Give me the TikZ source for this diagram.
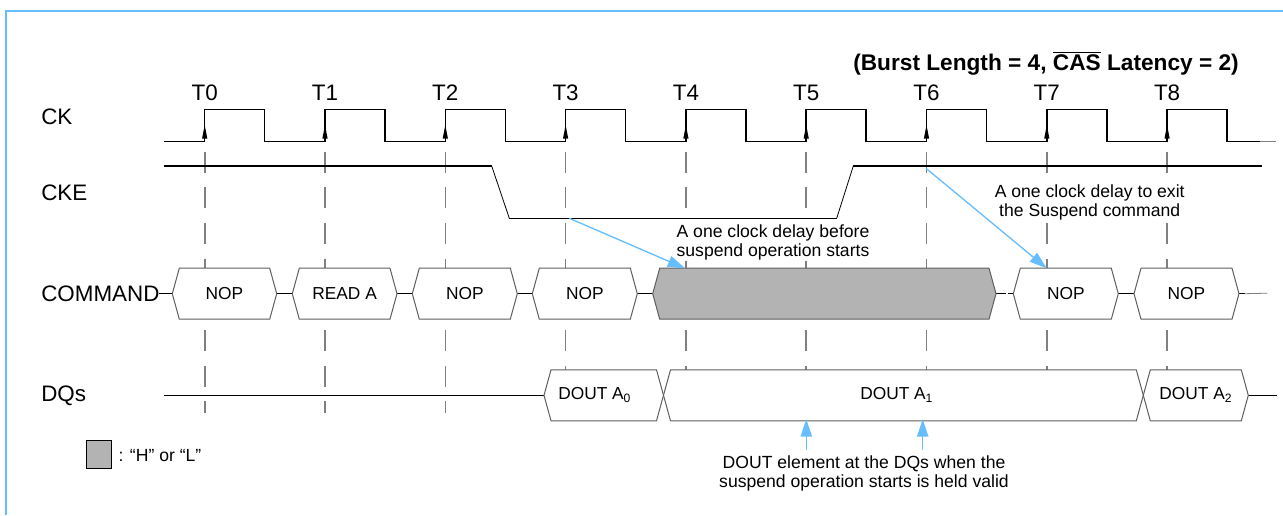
\documentclass[tikz,border=0pt]{standalone}
\usepackage{fontspec}
\setmainfont{Liberation Sans}
\usetikzlibrary{arrows.meta}
\definecolor{bblue}{RGB}{102,190,255}
\definecolor{hl}{RGB}{179,179,179}
\definecolor{dgray}{RGB}{95,95,95}
\definecolor{tgray}{RGB}{128,128,128}
\newcommand\hexbox[4]{\draw[#4] (#1,#3) -- ({#1+7},{#3-25.5}) -- ({#2-7},{#3-25.5}) -- (#2,#3) -- ({#2-7},{#3+25.5}) -- ({#1+7},{#3+25.5}) -- cycle;}
\begin{document}
\begin{tikzpicture}[x=0.75pt,y=-0.75pt,
  biglbl/.style={inner sep=0pt,font=\fontsize{16.8}{20}\selectfont},
  boxtxt/.style={inner sep=0pt,font=\fontsize{13}{15}\selectfont},
  note/.style={inner sep=1pt,fill=white,align=center,font=\fontsize{13.2}{14.2}\selectfont},
  sigline/.style={line width=1.1pt,black},
  thinline/.style={line width=0.8pt,black},
  tline/.style={line width=1.2pt,tgray,dash pattern=on 15.75pt off 11pt},
  boxline/.style={line width=0.75pt,dgray,fill=white},
  hlbox/.style={line width=0.75pt,dgray,fill=hl},
  barrow/.style={line width=1pt,bblue,-{Triangle[length=13pt,width=8.5pt]}}]
\useasboundingbox (0,0) rectangle (1283,515);
% frame (top and left edges visible)
\draw[bblue,line width=1.6pt] (6,515) -- (6,11) -- (1283,11);
% title
\node[inner sep=0pt,anchor=east,font=\fontsize{17}{20}\bfseries\selectfont] (title) at (1239,63.3) {(Burst Length = 4, $\overline{\hbox{CAS}}$ Latency = 2)};
% signal labels
\node[biglbl,anchor=west] (ck) at (41,117) {CK};
\node[biglbl,anchor=west] (cke) at (41,192.7) {CKE};
\node[biglbl,anchor=west] (cmd) at (41,294) {COMMAND};
\node[biglbl,anchor=west] (dqs) at (41,395.7) {DQs};
% dashed time markers
\foreach \i in {0,...,8}{
  \draw[tline] ({204.7+120.3*\i},151.7) -- ({204.7+120.3*\i},412.7);
  \node[biglbl] (t\i) at ({204.7+120.3*\i},93) {T\i};
}
% clock
\draw[sigline] (164.3,141.3) foreach \i in {0,...,8} { -- ({204.7+120.3*\i},141.3) -- ({204.7+120.3*\i},109.3) -- ({264.7+120.3*\i},109.3) -- ({264.7+120.3*\i},141.3) } -- (1260,141.3);
\draw[line width=1pt,tgray] (1260,141.3) -- (1275.7,141.3);
\foreach \i in {0,...,8}{
  \fill ({204.7+120.3*\i},125) -- ({202.1+120.3*\i},138.5) -- ({207.3+120.3*\i},138.5) -- cycle;
}
% CKE
\draw[sigline] (164.3,166) -- (491.7,166);
\draw[line width=0.6pt] (491.7,166) -- (509.3,218.3);
\draw[sigline] (509.3,218.3) -- (836.7,218.3);
\draw[line width=0.6pt] (836.7,218.3) -- (853.3,166);
\draw[sigline] (853.3,166) -- (1262.3,166);
% COMMAND bus
\draw[thinline] (159,293.7) -- (172.3,293.7);
\draw[thinline] (276.7,293.7) -- (292.3,293.7);
\draw[thinline] (397,293.7) -- (412.3,293.7);
\draw[thinline] (517.3,293.7) -- (532.3,293.7);
\draw[thinline] (637.3,293.7) -- (652.7,293.7);
\draw[thinline] (996,293.7) -- (1006,293.7);
\draw[thinline] (1008,293.7) -- (1013.3,293.7);
\draw[thinline] (1118.3,293.7) -- (1134,293.7);
\draw[thinline] (1239,293.7) -- (1245,293.7);
\draw[line width=0.6pt,tgray] (1245,293.7) -- (1267.3,293.2);
\hexbox{172.3}{276.7}{293.7}{boxline}
\hexbox{292.3}{397}{293.7}{boxline}
\hexbox{412.3}{517.3}{293.7}{boxline}
\hexbox{532.3}{637.3}{293.7}{boxline}
\hexbox{652.7}{996}{293.7}{hlbox}
\hexbox{1013.3}{1118.3}{293.7}{boxline}
\hexbox{1134}{1239}{293.7}{boxline}
\node[boxtxt] (c0) at (224.5,293.7) {NOP};
\node[boxtxt] (c1) at (344.6,293.7) {READ A};
\node[boxtxt] (c2) at (464.8,293.7) {NOP};
\node[boxtxt] (c3) at (584.8,293.7) {NOP};
\node[boxtxt] (c7) at (1065.8,293.7) {NOP};
\node[boxtxt] (c8) at (1186.5,293.7) {NOP};
% DQs bus
\draw[sigline] (164.3,395.3) -- (544,395.3);
\draw[sigline] (1248.3,395.3) -- (1276.7,395.3);
\hexbox{544}{663.5}{395.3}{boxline}
\hexbox{663.5}{1143.3}{395.3}{boxline}
\hexbox{1143.3}{1248.3}{395.3}{boxline}
\node[boxtxt] (d0) at (594.7,395.3) {DOUT A\textsubscript{0}};
\node[boxtxt] (d1) at (896.7,395.3) {DOUT A\textsubscript{1}};
\node[boxtxt] (d2) at (1195.8,395.3) {DOUT A\textsubscript{2}};
% notes
\node[note] (n1) at (773,242) {A one clock delay before\\suspend operation starts};
\node[note] (n2) at (1089.7,202.7) {A one clock delay to exit\\the Suspend command};
\node[note] (n3) at (864,473.7) {DOUT element at the DQs when the\\suspend operation starts is held valid};
% blue arrows
\coordinate (a1s) at (569.3,218.3);
\coordinate (a1e) at (685,268.3);
\coordinate (a2s) at (926,168.3);
\coordinate (a2e) at (1046.7,268.3);
\coordinate (a3s) at (806.3,450);
\coordinate (a3e) at (806.3,419.3);
\coordinate (a4s) at (922.7,450);
\coordinate (a4e) at (922.7,419.3);
\draw[barrow] (a1s) -- (a1e);
\draw[barrow] (a2s) -- (a2e);
\draw[barrow] (a3s) -- (a3e);
\draw[barrow] (a4s) -- (a4e);
% legend
\draw[line width=0.8pt,fill=hl] (86.3,440.7) rectangle (111.7,468.7);
\node[inner sep=0pt,anchor=west,font=\fontsize{13.2}{15}\selectfont] (leg) at (118.3,455.7) {: “H” or “L”};
\end{tikzpicture}
\end{document}
